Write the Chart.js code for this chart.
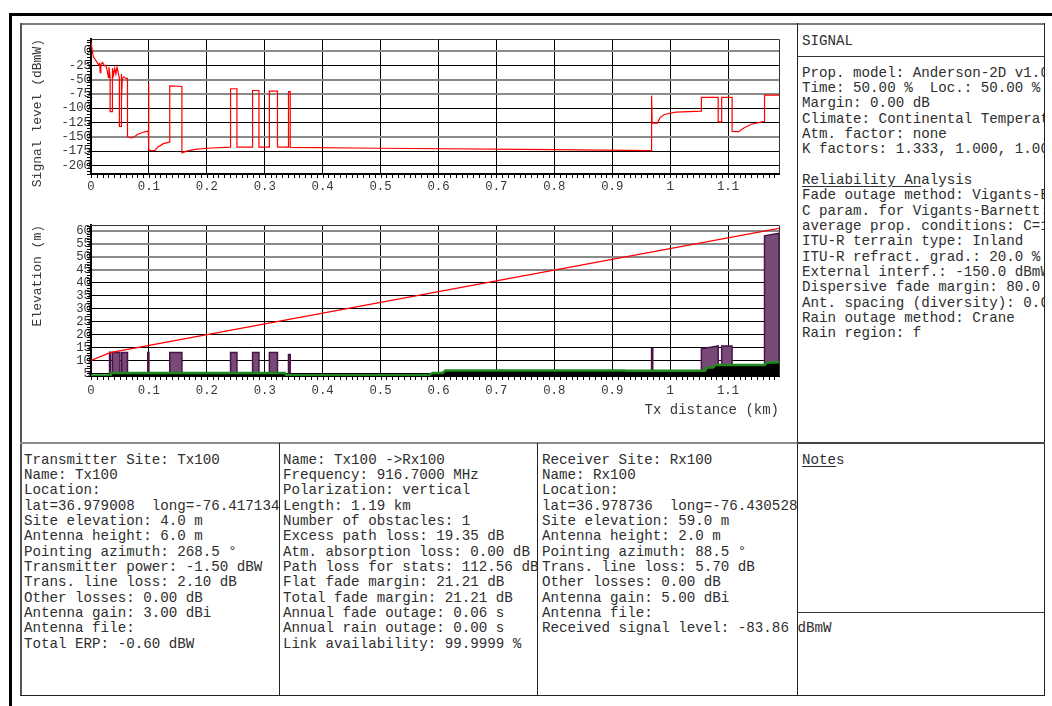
<!DOCTYPE html>
<html>
<head>
<meta charset="utf-8">
<script src="https://cdn.jsdelivr.net/npm/chart.js@4.4.1/dist/chart.umd.min.js"></script>
<style>
  html, body { margin: 0; padding: 0; background: #fff; }
  body { width: 1052px; height: 706px; position: relative; overflow: hidden;
         font-family: 'Liberation Mono', 'DejaVu Sans Mono', monospace; color: #2e2e2e; }
  .ln { position: absolute; }
  .blk { position: absolute; white-space: pre; font-size: 14.2px; line-height: 15.35px; }
  .clip { position: absolute; overflow: hidden; }
  canvas { position: absolute; }
  u { text-decoration: underline; text-underline-offset: 2px; }
</style>
</head>
<body>
<div class="ln" style="left:9px;top:13px;width:1100px;height:800px;border-left:3px solid #000;border-top:3px solid #000;"></div>

<!-- panel lines -->
<div class="ln" style="left:20px;top:23px;width:1025px;height:2px;background:#7a7a7a;"></div>
<div class="ln" style="left:20px;top:23px;width:2px;height:673px;background:#555;"></div>
<div class="ln" style="left:797px;top:23px;width:1px;height:673px;background:#222;"></div>
<div class="ln" style="left:1044px;top:23px;width:1px;height:673px;background:#222;"></div>
<div class="ln" style="left:797px;top:56px;width:248px;height:1px;background:#333;"></div>
<div class="ln" style="left:20px;top:442px;width:777px;height:2px;background:#8a8a8a;"></div>
<div class="ln" style="left:797px;top:442px;width:248px;height:2px;background:#444;"></div>
<div class="ln" style="left:279px;top:443px;width:1px;height:253px;background:#222;"></div>
<div class="ln" style="left:537px;top:443px;width:1px;height:253px;background:#222;"></div>
<div class="ln" style="left:797px;top:612px;width:248px;height:1px;background:#333;"></div>
<div class="ln" style="left:20px;top:695px;width:1025px;height:1px;background:#222;"></div>

<canvas id="signalChart" width="776" height="180" style="left:21px;top:25px;"></canvas>
<canvas id="profileChart" width="776" height="233" style="left:21px;top:207px;"></canvas>

<div class="blk" style="left:802px;top:33.5px;">SIGNAL</div>
<div class="clip" style="left:798px;top:60px;width:246px;height:300px;">
<div class="blk" style="left:4px;top:5.5px;">Prop. model: Anderson-2D v1.00
Time: 50.00 %  Loc.: 50.00 %
Margin: 0.00 dB
Climate: Continental Temperate
Atm. factor: none
K factors: 1.333, 1.000, 1.000

<u>Reliability An</u>alysis
Fade outage method: Vigants-Barnett
C param. for Vigants-Barnett: 1.00
average prop. conditions: C=1
ITU-R terrain type: Inland
ITU-R refract. grad.: 20.0 %
External interf.: -150.0 dBmW
Dispersive fade margin: 80.0 dB
Ant. spacing (diversity): 0.0 m
Rain outage method: Crane
Rain region: f</div>
</div>

<div class="blk" style="left:24px;top:452.5px;">Transmitter Site: Tx100
Name: Tx100
Location:
lat=36.979008  long=-76.417134
Site elevation: 4.0 m
Antenna height: 6.0 m
Pointing azimuth: 268.5 °
Transmitter power: -1.50 dBW
Trans. line loss: 2.10 dB
Other losses: 0.00 dB
Antenna gain: 3.00 dBi
Antenna file:
Total ERP: -0.60 dBW</div>

<div class="blk" style="left:283px;top:452.5px;">Name: Tx100 -&gt;Rx100
Frequency: 916.7000 MHz
Polarization: vertical
Length: 1.19 km
Number of obstacles: 1
Excess path loss: 19.35 dB
Atm. absorption loss: 0.00 dB
Path loss for stats: 112.56 dB
Flat fade margin: 21.21 dB
Total fade margin: 21.21 dB
Annual fade outage: 0.06 s
Annual rain outage: 0.00 s
Link availability: 99.9999 %</div>

<div class="blk" style="left:542px;top:452.5px;">Receiver Site: Rx100
Name: Rx100
Location:
lat=36.978736  long=-76.430528
Site elevation: 59.0 m
Antenna height: 2.0 m
Pointing azimuth: 88.5 °
Trans. line loss: 5.70 dB
Other losses: 0.00 dB
Antenna gain: 5.00 dBi
Antenna file:
Received signal level: -83.86 dBmW</div>

<div class="blk" style="left:802px;top:452.5px;"><u>Note</u>s</div>

<script>
// Distance axis (km)
const DIST_MAX = 1.188;
const distTicks = [0, 0.1, 0.2, 0.3, 0.4, 0.5, 0.6, 0.7, 0.8, 0.9, 1, 1.1];
const distLabels = ['0', '0.1', '0.2', '0.3', '0.4', '0.5', '0.6', '0.7', '0.8', '0.9', '1', '1.1'];

// Signal level along the path (dBmW)
const signalTicks = [0, -25, -50, -75, -100, -125, -150, -175, -200];
const signalX = [0, 0.002, 0.004, 0.008, 0.010, 0.013, 0.015, 0.016, 0.017, 0.020, 0.023, 0.026, 0.028, 0.030, 0.031, 0.033,
  0.033, 0.037, 0.037, 0.039, 0.041, 0.043, 0.045, 0.047, 0.049, 0.049, 0.052, 0.052, 0.053, 0.054, 0.056, 0.061, 0.063,
  0.063, 0.070, 0.075, 0.080, 0.090, 0.099, 0.099, 0.100, 0.100, 0.103, 0.110, 0.115, 0.125, 0.136, 0.136, 0.157, 0.157,
  0.165, 0.180, 0.200, 0.241, 0.241, 0.252, 0.252, 0.279, 0.279, 0.290, 0.290, 0.308, 0.308, 0.322, 0.322, 0.341, 0.341,
  0.344, 0.344, 0.500, 0.800, 0.968, 0.968, 0.969, 0.978, 0.983, 0.990, 1.010, 1.054, 1.054, 1.083, 1.083, 1.089, 1.089,
  1.107, 1.107, 1.118, 1.128, 1.140, 1.163, 1.163, 1.188];
const signalY = [16, 2, -10, -16, -19, -24, -22, -38, -24, -20, -26, -25, -35, -46, -28, -46,
  -106, -106, -30, -42, -30, -40, -28, -38, -48, -132, -132, -40, -88, -50, -45, -48, -48,
  -150, -152, -150, -146, -142, -140, -57, -57, -172, -174, -174, -168, -162, -159, -61, -62, -178,
  -175, -172, -170, -168, -66, -66, -168, -168, -69, -69, -168, -168, -70, -70, -168, -168, -71,
  -71, -168.5, -170, -172.5, -174, -78, -126, -126, -116, -111, -107, -105, -81, -81, -124, -124, -81,
  -81, -140.7, -141, -134, -128, -123, -77, -77];

// Elevation profile (m)
const elevTicks = [5, 10, 15, 20, 25, 30, 35, 40, 45, 50, 55, 60];
const losX = [0, 0.033, 1.188];
const losY = [10, 13, 61];
const terrainX = [0, 0.033, 0.034, 0.335, 0.337, 0.584, 0.590, 0.607, 0.612, 0.920, 0.925, 1.060, 1.064, 1.074, 1.078, 1.163, 1.167, 1.188];
const terrainY = [4.2, 4.2, 5.2, 5.2, 4.3, 4.4, 5.2, 5.2, 6.1, 6.1, 6.0, 6.0, 7.3, 7.3, 8.2, 8.2, 9.1, 9.3];
const bldStart = [0.032, 0.037, 0.053, 0.098, 0.136, 0.241, 0.279, 0.308, 0.341, 0.968, 1.054, 1.089, 1.163];
const bldEnd   = [0.034, 0.050, 0.063, 0.100, 0.157, 0.252, 0.290, 0.322, 0.344, 0.970, 1.083, 1.107, 1.188];
const bldTopStart = [13.2, 13.1, 13.1, 13.1, 13.1, 13.1, 13.1, 13.1, 12.3, 14.5, 14.5, 15.6, 58.1];
const bldTopEnd   = [13.2, 13.1, 13.1, 13.1, 13.1, 13.1, 13.1, 13.1, 12.3, 14.5, 15.6, 15.6, 59.1];

const MONO = "'Liberation Mono', 'DejaVu Sans Mono', monospace";
const TICK_COLOR = '#383838';
// grid lines that render grey/heavier in the original
const GREY_SIGNAL = [0, -50, -75, -150];
const GREY_ELEV = [45, 50, 55, 60];

function zip(xs, ys) {
  return xs.map((x, i) => ({ x, y: ys[i] }));
}

// Minor ticks + plot frame
const framePlugin = {
  id: 'frame',
  afterDraw(chart, args, opts) {
    const { ctx, chartArea: a, scales: { x, y } } = chart;
    ctx.save();
    ctx.strokeStyle = '#000';
    ctx.lineWidth = 1;
    ctx.beginPath();
    // x minor ticks
    for (let i = 0; i * opts.xStep <= x.max + 1e-9; i++) {
      const px = Math.round(x.getPixelForValue(i * opts.xStep)) + 0.5;
      ctx.moveTo(px, a.bottom);
      ctx.lineTo(px, a.bottom + 4);
    }
    // y minor ticks
    const first = Math.ceil(y.min / opts.yStep);
    for (let i = first; i * opts.yStep <= y.max + 1e-9; i++) {
      const py = Math.round(y.getPixelForValue(i * opts.yStep)) + 0.5;
      ctx.moveTo(a.left, py);
      ctx.lineTo(a.left - 4, py);
    }
    ctx.stroke();
    // top and right edge
    ctx.beginPath();
    ctx.moveTo(a.left, Math.round(a.top) + 0.5);
    ctx.lineTo(Math.round(a.right) + 0.5, Math.round(a.top) + 0.5);
    ctx.lineTo(Math.round(a.right) + 0.5, a.bottom);
    ctx.strokeStyle = '#333';
    ctx.stroke();
    ctx.restore();
  }
};

function distScale(titleOn) {
  return {
    type: 'linear',
    min: 0,
    max: DIST_MAX,
    afterBuildTicks: s => { s.ticks = distTicks.map(v => ({ value: v })); },
    afterFit: s => { s.height = titleOn ? 64 : 31; },
    ticks: {
      callback: (v) => distLabels[distTicks.indexOf(v)] ?? '',
      font: { family: MONO, size: 12.3 },
      color: TICK_COLOR,
      padding: titleOn ? 7 : 5,
      maxRotation: 0,
      autoSkip: false
    },
    grid: { color: '#000', lineWidth: 1, drawTicks: false },
    border: { color: '#000', width: 2 },
    title: {
      display: titleOn,
      text: 'Tx distance (km)',
      align: 'end',
      color: TICK_COLOR,
      font: { family: MONO, size: 14 },
      padding: { top: 0, bottom: 21.5 }
    }
  };
}

function valueScale(min, max, tickList, greyList, title) {
  return {
    type: 'linear',
    min,
    max,
    afterBuildTicks: s => { s.ticks = tickList.map(v => ({ value: v })); },
    afterFit: s => { s.width = 70; },
    ticks: {
      font: { family: MONO, size: 12.3 },
      color: TICK_COLOR,
      padding: 0,
      autoSkip: false
    },
    grid: {
      drawTicks: false,
      color: c => greyList.includes(c.tick && c.tick.value) ? '#8a8a8a' : '#000',
      lineWidth: c => greyList.includes(c.tick && c.tick.value) ? 2 : 1
    },
    border: { color: '#000', width: 2 },
    title: {
      display: true,
      text: title,
      align: 'end',
      color: TICK_COLOR,
      font: { family: MONO, size: 13 },
      padding: { top: 9, bottom: 0 }
    }
  };
}

const baseOptions = {
  responsive: false,
  animation: false,
  events: [],
  plugins: { legend: { display: false }, tooltip: { enabled: false } },
  elements: { point: { radius: 0 }, line: { tension: 0 } }
};

// Signal level chart
new Chart(document.getElementById('signalChart').getContext('2d'), {
  type: 'line',
  data: {
    datasets: [{
      data: zip(signalX, signalY),
      borderColor: '#ff0000',
      borderWidth: 1.2,
      fill: false
    }]
  },
  options: {
    ...baseOptions,
    layout: { padding: { top: 14, right: 18, left: 0, bottom: 0 } },
    scales: {
      x: distScale(false),
      y: valueScale(-215, 21, signalTicks, GREY_SIGNAL, 'Signal level (dBmW)')
    },
    plugins: { ...baseOptions.plugins, frame: { xStep: 0.01, yStep: 5 } }
  },
  plugins: [framePlugin]
});

// Elevation profile chart
const buildingSets = bldStart.map((x0, i) => ({
  data: [
    { x: x0, y: 4 },
    { x: x0, y: bldTopStart[i] },
    { x: bldEnd[i], y: bldTopEnd[i] },
    { x: bldEnd[i], y: 4 }
  ],
  borderColor: '#4a1248',
  borderWidth: 1.5,
  backgroundColor: '#774a78',
  fill: 'start'
}));

new Chart(document.getElementById('profileChart').getContext('2d'), {
  type: 'line',
  data: {
    datasets: [
      { data: zip(losX, losY), borderColor: '#ff0000', borderWidth: 1.2, fill: false },
      { data: zip(terrainX, terrainY), borderColor: '#1f8a1f', borderWidth: 2.5, fill: false },
      { data: zip(terrainX, terrainY), borderColor: '#000', borderWidth: 1, backgroundColor: '#000', fill: 'start' },
      ...buildingSets
    ]
  },
  options: {
    ...baseOptions,
    layout: { padding: { top: 18, right: 18, left: 0, bottom: 0 } },
    scales: {
      x: distScale(true),
      y: valueScale(4, 62.3, elevTicks, GREY_ELEV, 'Elevation (m)')
    },
    plugins: { ...baseOptions.plugins, frame: { xStep: 0.01, yStep: 1 } }
  },
  plugins: [framePlugin]
});
</script>
</body>
</html>
